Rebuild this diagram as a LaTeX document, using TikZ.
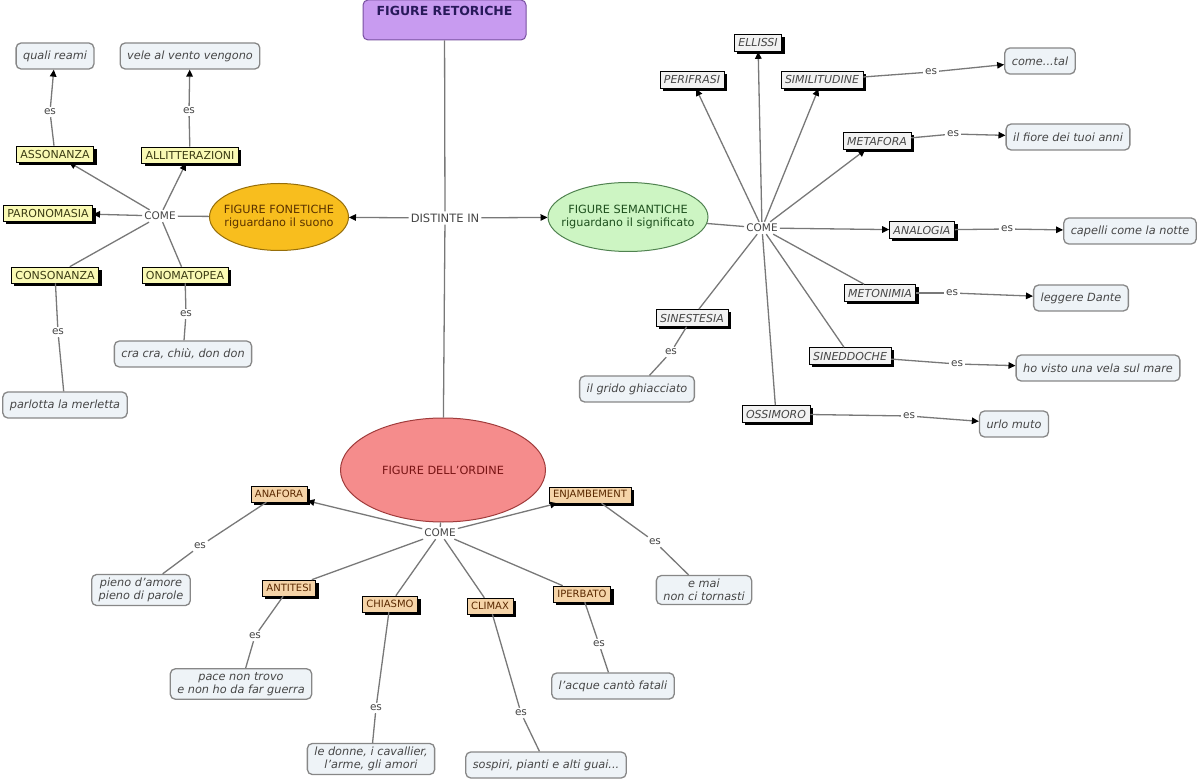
\documentclass[tikz,border=0pt]{standalone}
\usepackage{fontspec}
\setmainfont{DejaVu Sans}
\usetikzlibrary{arrows.meta,shapes.geometric,shadows}
\definecolor{linkgray}{RGB}{120,120,120}
\definecolor{phrasegray}{RGB}{70,70,70}
\definecolor{titlefill}{RGB}{200,155,240}
\definecolor{titledraw}{RGB}{120,80,160}
\definecolor{titletext}{RGB}{40,25,90}
\definecolor{fonfill}{RGB}{248,190,30}
\definecolor{fondraw}{RGB}{150,110,10}
\definecolor{fontext}{RGB}{90,50,0}
\definecolor{semfill}{RGB}{205,245,195}
\definecolor{semdraw}{RGB}{80,130,80}
\definecolor{semtext}{RGB}{30,80,30}
\definecolor{ordfill}{RGB}{245,140,140}
\definecolor{orddraw}{RGB}{160,60,60}
\definecolor{ordtext}{RGB}{120,20,20}
\definecolor{yfill}{RGB}{250,250,180}
\definecolor{ytext}{RGB}{60,60,20}
\definecolor{pfill}{RGB}{245,212,168}
\definecolor{ptext}{RGB}{90,40,0}
\definecolor{sfill}{RGB}{242,242,242}
\definecolor{leaffill}{RGB}{238,243,247}
\definecolor{leafdraw}{RGB}{135,135,135}
\newcommand{\zw}[1]{\makebox[0pt]{#1}}
\tikzset{
  link/.style={draw=linkgray, line width=1.3pt},
  arr/.style={link, -{Triangle[length=7pt,width=6.5pt,color=black]}},
  phrase/.style={fill=white, inner sep=2pt, text=phrasegray, font=\fontsize{10.5}{12}\selectfont},
  boxshadow/.style={drop shadow={shadow xshift=3pt, shadow yshift=-3pt, fill=black, opacity=1}},
  ybox/.style={draw=black, line width=0.6pt, fill=yfill, text=ytext, inner xsep=4pt, inner ysep=2pt, minimum height=16pt, font=\fontsize{11}{12}\selectfont, boxshadow},
  sbox/.style={draw=black, line width=0.6pt, fill=sfill, text=phrasegray, inner xsep=4pt, inner ysep=2pt, minimum height=17pt, font=\fontsize{11}{12}\selectfont\itshape, boxshadow},
  pbox/.style={draw=black, line width=0.6pt, fill=pfill, text=ptext, inner xsep=4pt, inner ysep=2pt, minimum height=16pt, font=\fontsize{10}{12}\selectfont, boxshadow},
  leaf/.style={draw=leafdraw, line width=1.3pt, rounded corners=5pt, fill=leaffill, text=phrasegray, inner xsep=7pt, minimum height=26pt, align=center, font=\fontsize{11.3}{13.5}\selectfont\itshape},
  bigell/.style={ellipse, line width=1pt, align=center, inner sep=0pt, font=\fontsize{11.3}{13.5}\selectfont},
}
\begin{document}
\begin{tikzpicture}[x=1pt,y=-1pt]
\useasboundingbox (0,0) rectangle (1200,783);
% main concepts
\node[draw=titledraw, fill=titlefill, rounded corners=5pt, line width=1pt, minimum width=163pt, minimum height=40pt, text height=11pt, text depth=19pt, text=titletext, font=\fontsize{12.5}{14}\selectfont\bfseries] (fr) at (444.5,20) {FIGURE RETORICHE};
\node[phrase, font=\fontsize{11.5}{13}\selectfont] (dist) at (445,218) {DISTINTE IN};
\node[bigell, draw=fondraw, fill=fonfill, text=fontext, minimum width=139pt, minimum height=67pt] (fon) at (279,217) {\zw{FIGURE FONETICHE}\\\zw{riguardano il suono}};
\node[bigell, draw=semdraw, fill=semfill, text=semtext, minimum width=160pt, minimum height=69pt] (sem) at (628,217) {\zw{FIGURE SEMANTICHE}\\\zw{riguardano il significato}};
\node[bigell, draw=orddraw, fill=ordfill, text=ordtext, minimum width=205pt, minimum height=104pt] (ord) at (443,470) {\zw{FIGURE DELL'ORDINE}};
\draw[link] (fr) -- (dist);
\draw[arr] (dist) -- (fon);
\draw[arr] (dist) -- (sem);
\draw[link] (dist) -- (ord);

% left: fonetiche
\node[phrase] (come1) at (160,216) {COME};
\node[ybox] (asso) at (55,154) {ASSONANZA};
\node[ybox] (allit) at (190,155) {ALLITTERAZIONI};
\node[ybox] (paro) at (48,213) {PARONOMASIA};
\node[ybox] (cons) at (55,275) {CONSONANZA};
\node[ybox] (onom) at (185,275) {ONOMATOPEA};
\node[leaf] (qr) at (55,56) {quali reami};
\node[leaf] (vele) at (190,56) {vele al vento vengono};
\node[leaf] (cra) at (183,354) {cra cra, chiù, don don};
\node[leaf] (parl) at (65,405) {parlotta la merletta};
\node[phrase] (es1) at (50,112) {es};
\node[phrase] (es2) at (189,111) {es};
\node[phrase] (es3) at (58,332) {es};
\node[phrase] (es4) at (186,314) {es};
\draw[link] (fon) -- (come1);
\draw[arr] (come1) -- (asso);
\draw[arr] (come1) -- (allit);
\draw[arr] (come1) -- (paro);
\draw[link] (come1) -- (cons);
\draw[link] (come1) -- (onom);
\draw[link] (asso) -- (es1);
\draw[arr] (es1) -- (qr);
\draw[link] (allit) -- (es2);
\draw[arr] (es2) -- (vele);
\draw[link] (cons) -- (es3);
\draw[link] (es3) -- (parl);
\draw[link] (onom) -- (es4);
\draw[link] (es4) -- (cra);

% right: semantiche
\node[phrase] (come2) at (762,228) {COME};
\node[sbox] (ell) at (758,43) {ELLISSI};
\node[sbox] (peri) at (692,80) {PERIFRASI};
\node[sbox] (simi) at (822,80) {SIMILITUDINE};
\node[sbox] (meta) at (877,141) {METAFORA};
\node[sbox] (anal) at (922,230) {ANALOGIA};
\node[sbox] (meto) at (880,293) {METONIMIA};
\node[sbox] (sine) at (692,318) {SINESTESIA};
\node[sbox] (sined) at (850,356) {SINEDDOCHE};
\node[sbox] (ossi) at (776,414) {OSSIMORO};
\node[leaf] (tal) at (1040,61) {come...tal};
\node[leaf] (fiore) at (1068,137) {il fiore dei tuoi anni};
\node[leaf] (cap) at (1130,231) {capelli come la notte};
\node[leaf] (dante) at (1081,298) {leggere Dante};
\node[leaf] (vela) at (1098,368) {ho visto una vela sul mare};
\node[leaf] (urlo) at (1014,424) {urlo muto};
\node[leaf] (grido) at (637,389) {il grido ghiacciato};
\node[phrase] (es5) at (931,72) {es};
\node[phrase] (es6) at (953,134) {es};
\node[phrase] (es7) at (1007,229) {es};
\node[phrase] (es8) at (952,293) {es};
\node[phrase] (es9) at (957,364) {es};
\node[phrase] (es10) at (909,416) {es};
\node[phrase] (es11) at (671,352) {es};
\draw[link] (sem) -- (come2);
\draw[arr] (come2) -- (ell);
\draw[arr] (come2) -- (peri);
\draw[arr] (come2) -- (simi);
\draw[arr] (come2) -- (meta);
\draw[arr] (come2) -- (anal);
\draw[link] (come2) -- (meto);
\draw[link] (come2) -- (sine);
\draw[link] (come2) -- (sined);
\draw[link] (come2) -- (ossi);
\draw[link] (simi) -- (es5);
\draw[arr] (es5) -- (tal);
\draw[link] (meta) -- (es6);
\draw[arr] (es6) -- (fiore);
\draw[link] (anal) -- (es7);
\draw[arr] (es7) -- (cap);
\draw[link] (meto) -- (es8);
\draw[arr] (es8) -- (dante);
\draw[link] (sined) -- (es9);
\draw[arr] (es9) -- (vela);
\draw[link] (ossi) -- (es10);
\draw[arr] (es10) -- (urlo);
\draw[link] (sine) -- (es11);
\draw[link] (es11) -- (grido);

% bottom: ordine
\node[phrase] (come3) at (440,533) {COME};
\node[pbox] (anaf) at (279,494) {ANAFORA};
\node[pbox] (enj) at (590,495) {ENJAMBEMENT};
\node[pbox] (anti) at (289,588) {ANTITESI};
\node[pbox] (chia) at (390,604) {CHIASMO};
\node[pbox] (clim) at (490,606) {CLIMAX};
\node[pbox] (iper) at (582,594) {IPERBATO};
\node[leaf] (pieno) at (141,590) {pieno d'amore\\pieno di parole};
\node[leaf] (emai) at (704,590) {e mai\\non ci tornasti};
\node[leaf] (pace) at (241,684) {pace non trovo\\e non ho da far guerra};
\node[leaf] (donne) at (371,759) {le donne, i cavallier,\\l'arme, gli amori};
\node[leaf] (sosp) at (546,765) {sospiri, pianti e alti guai...};
\node[leaf] (acque) at (613,686) {l'acque cantò fatali};
\node[phrase] (es12) at (200,546) {es};
\node[phrase] (es13) at (655,542) {es};
\node[phrase] (es14) at (255,636) {es};
\node[phrase] (es15) at (376,708) {es};
\node[phrase] (es16) at (521,713) {es};
\node[phrase] (es17) at (599,644) {es};
\draw[link] (ord) -- (come3);
\draw[arr] (come3) -- (anaf);
\draw[arr] (come3) -- (enj);
\draw[link] (come3) -- (anti);
\draw[link] (come3) -- (chia);
\draw[link] (come3) -- (clim);
\draw[link] (come3) -- (iper);
\draw[link] (anaf) -- (es12);
\draw[link] (es12) -- (pieno);
\draw[link] (enj) -- (es13);
\draw[link] (es13) -- (emai);
\draw[link] (anti) -- (es14);
\draw[link] (es14) -- (pace);
\draw[link] (chia) -- (es15);
\draw[link] (es15) -- (donne);
\draw[link] (clim) -- (es16);
\draw[link] (es16) -- (sosp);
\draw[link] (iper) -- (es17);
\draw[link] (es17) -- (acque);
\end{tikzpicture}
\end{document}
